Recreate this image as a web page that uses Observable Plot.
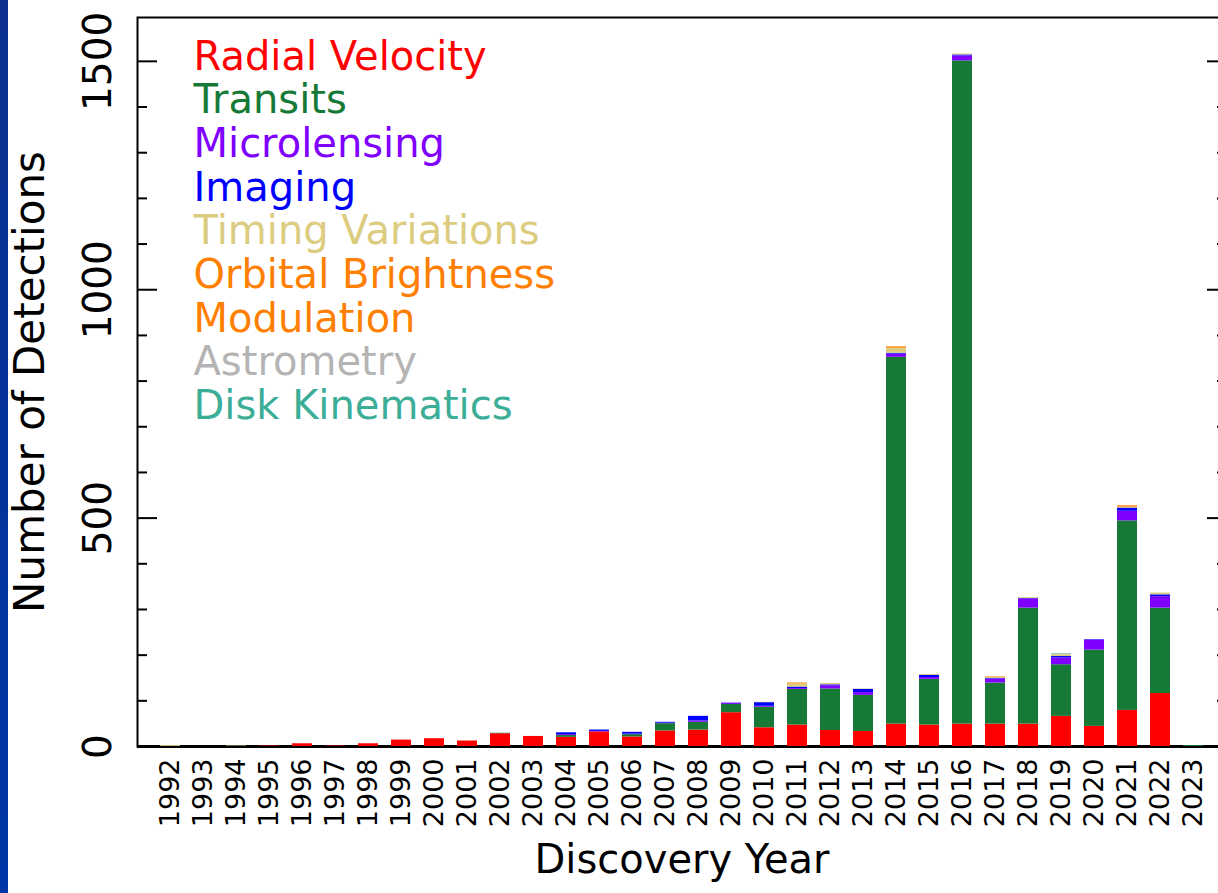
<!DOCTYPE html>
<html>
<head>
<meta charset="utf-8">
<script src="https://cdn.jsdelivr.net/npm/d3@7"></script>
<script src="https://cdn.jsdelivr.net/npm/@observablehq/plot@0.6"></script>
<style>
  html, body { margin: 0; padding: 0; background: #ffffff; overflow: hidden; }
  #wrap { position: relative; width: 1218px; height: 893px; overflow: hidden; background: #ffffff; }
  #strip { position: absolute; left: 0; top: 0; width: 8px; height: 893px;
           background: linear-gradient(to bottom, #0a2f8f, #0036a6); z-index: 2; }
  #chart { position: absolute; left: 0; top: 0; width: 1232px; }
  #chart svg { max-width: none !important; }
  svg text { font-family: "DejaVu Sans", sans-serif; }
</style>
</head>
<body>
<div id="wrap"><div id="strip"></div><div id="chart"></div></div>
<script>
// ---- data ----
const years = [1992,1993,1994,1995,1996,1997,1998,1999,2000,2001,2002,2003,2004,2005,2006,2007,
               2008,2009,2010,2011,2012,2013,2014,2015,2016,2017,2018,2019,2020,2021,2022,2023];
const methods = ["Radial Velocity","Transits","Microlensing","Imaging","Timing Variations",
                 "Orbital Brightness Modulation","Astrometry","Disk Kinematics"];
const methodColors = ["#ff0000","#167a36","#8000ff","#0000ff","#dccc80","#ff8000","#b4b4b4","#3cae98"];

const radialVelocity    = [0,0,0,1,6,1,6,14,17,12,28,22,20,32,21,34,36,74,41,47,35,33,49,47,49,49,49,66,44,79,116,0];
const transits          = [0,0,0,0,0,0,0,0,0,0,1,0,4,0,5,16,17,18,45,78,91,79,803,100,1452,90,254,113,167,415,187,2];
const microlensing      = [0,0,0,0,0,0,0,0,0,0,0,0,2,1,1,1,3,2,2,2,7,6,7,4,11,9,20,15,22,21,25,0];
const imaging           = [0,0,0,0,0,0,0,0,0,0,0,0,4,3,4,2,10,1,8,3,2,7,2,5,2,1,1,3,1,7,4,0];
const timingVariations  = [2,0,1,0,0,0,0,0,0,0,0,0,0,0,0,0,0,0,1,7,3,1,11,2,2,3,2,4,0,2,4,0];
const orbitalBrightness = [0,0,0,0,0,0,0,0,0,0,0,0,0,0,0,0,0,0,0,2,0,0,3,0,0,1,0,0,0,3,0,0];
const astrometry        = [0,0,0,0,0,0,0,0,0,0,0,0,0,0,0,0,0,0,0,0,0,0,0,0,0,0,0,1,0,0,0,0];
const diskKinematics    = [0,0,0,0,0,0,0,0,0,0,0,0,0,0,0,0,0,0,0,0,0,0,0,0,0,0,0,1,0,0,0,0];

const legendLines  = ["Radial Velocity","Transits","Microlensing","Imaging","Timing Variations",
                      "Orbital Brightness","Modulation","Astrometry","Disk Kinematics"];
const legendMethod = [0,1,2,3,4,5,5,6,7];

const yMajorTicks = [0,500,1000,1500];
const yMinorTicks = [100,200,300,400,600,700,800,900,1100,1200,1300,1400];

// ---- tidy table ----
const series = [radialVelocity, transits, microlensing, imaging, timingVariations,
                orbitalBrightness, astrometry, diskKinematics];
const rows = [];
years.forEach((yr, i) => {
  methods.forEach((m, k) => rows.push({year: yr, method: m, count: series[k][i]}));
});

const W = 1232, H = 893, mL = 137, mR = 6, mT = 17, mB = 147;

const legendMarks = legendLines.map((t, i) =>
  Plot.text([t], {frameAnchor: "top-left", dx: 56, dy: 52 + i * 43.7, lineAnchor: "bottom",
                  textAnchor: "start", fontSize: 40, fill: methodColors[legendMethod[i]]}));

const chart = Plot.plot({
  width: W, height: H,
  marginLeft: mL, marginRight: mR, marginTop: mT, marginBottom: mB,
  style: {background: "transparent", color: "black", maxWidth: "none"},
  x: {type: "band", domain: years, paddingInner: 0.4, paddingOuter: 0.7, align: 0.5, label: null},
  y: {domain: [0, 1596], label: null},
  color: {domain: methods, range: methodColors},
  marks: [
    Plot.frame({stroke: "black", strokeWidth: 2}),
    Plot.ruleY([0], {stroke: "black", strokeWidth: 3}),
    Plot.barY(rows, {x: "year", y: "count", fill: "method", order: methods}),
    Plot.axisX({tickSize: 0, tickPadding: 12, tickRotate: -90, fontSize: 27, fill: "black",
                tickFormat: d => String(d), label: null}),
    Plot.axisY({anchor: "left", ticks: yMajorTicks, tickSize: -20, strokeWidth: 2, tickRotate: -90,
                tickPadding: 47, fontSize: 39, fill: "black", tickFormat: d => String(d), label: null}),
    Plot.axisY({anchor: "left", ticks: yMinorTicks, tickSize: -10, strokeWidth: 2, text: null, label: null}),
    Plot.axisY({anchor: "right", ticks: yMajorTicks, tickSize: -20, strokeWidth: 2, text: null, label: null}),
    Plot.axisY({anchor: "right", ticks: yMinorTicks, tickSize: -10, strokeWidth: 2, text: null, label: null}),
    Plot.text(["Number of Detections"], {frameAnchor: "left", dx: -107, rotate: -90, textAnchor: "middle",
                                         fontSize: 42, fill: "black"}),
    Plot.text(["Discovery Year"], {frameAnchor: "bottom", dy: 126, fontSize: 40, fill: "black"}),
    ...legendMarks
  ]
});
document.getElementById("chart").appendChild(chart);
</script>
</body>
</html>
